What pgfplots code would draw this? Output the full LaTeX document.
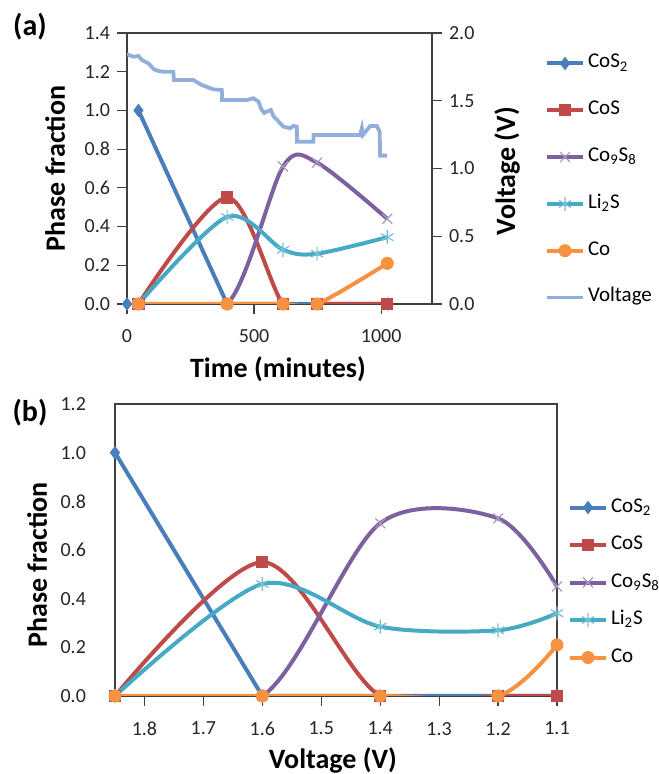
\documentclass[border=0pt]{standalone}
\usepackage{fontspec}
\setmainfont{Carlito}
\usepackage{pgfplots}
\pgfplotsset{compat=1.18}
\definecolor{cA}{HTML}{4A7EBB}
\definecolor{cB}{HTML}{BE4B48}
\definecolor{cC}{HTML}{7D60A0}
\definecolor{cD}{HTML}{46AAC5}
\definecolor{cE}{HTML}{F69240}
\definecolor{cV}{HTML}{92AEDD}
\definecolor{cAx}{HTML}{404040}
\pgfplotsset{
  every axis/.append style={
    scale only axis,
    axis line style={cAx, line width=0.6pt},
    tick style={cAx, line width=0.6pt},
    tick align=outside,
    major tick length=5pt,
    tick label style={font=\fontsize{10}{12}\selectfont, text=black!85},
    /pgf/number format/assume math mode=true,
    /pgf/number format/1000 sep={},
    label style={font=\bfseries\fontsize{14}{16}\selectfont},
  },
  myleg/.style={legend cell align=left,
    legend style={draw=none, fill=none, inner sep=0pt, outer sep=0pt, anchor=north west, column sep=1.5pt,
      nodes={inner sep=0pt, text height=7pt, text depth=2.5pt, anchor=west, font=\fontsize{10.5}{12}\selectfont}},
    legend image code/.code={\draw[mark repeat=2, mark phase=2, ##1] plot coordinates {(0pt,0pt)(9pt,0pt)(18pt,0pt)};}},
  sA/.style={cA, line width=2pt, mark=diamond*, mark size=3pt, mark options={solid, fill=cA, draw=cA, line width=0.5pt}},
  sB/.style={cB, line width=2pt, mark=square*, mark size=2.8pt, mark options={solid, fill=cB, draw=cB, line width=0.5pt}},
  sC/.style={cC, line width=2pt, mark=x, mark size=3.5pt, mark options={solid, draw=cC!65, line width=0.6pt}},
  sD/.style={cD, line width=2pt, mark=asterisk, mark size=3.5pt, mark options={solid, draw=cD!75, line width=0.6pt}},
  sE/.style={cE, line width=2pt, mark=*, mark size=3pt, mark options={solid, fill=cE, draw=cE, line width=0.5pt}},
  sV/.style={cV, line width=1.9pt, mark=none},
}
\begin{document}
\begin{tikzpicture}
\useasboundingbox (0pt,0pt) rectangle (329pt,387pt);
\node[font=\bfseries\fontsize{15}{17}\selectfont] at (15pt,373.5pt) {(a)};
\node[font=\bfseries\fontsize{15}{17}\selectfont] at (15pt,180.5pt) {(b)};
% ---------- panel (a), phase fractions ----------
\begin{axis}[at={(63.5pt,235pt)}, anchor=south west, width=152.5pt, height=135.5pt,
  xmin=0, xmax=1200, ymin=0, ymax=1.4,
  xtick={0,500,1000}, ytick={0,0.2,0.4,0.6,0.8,1.0,1.2,1.4},
  xticklabel style={yshift=-4pt},
  yticklabel style={/pgf/number format/.cd, fixed, fixed zerofill, precision=1},
  xtick pos=bottom, ytick pos=left,
  xlabel={Time (minutes)}, ylabel={Phase fraction},
  xlabel style={at={(axis description cs:0.495,-0.24)}, anchor=center},
  ylabel style={at={(axis description cs:-0.236,0.5)}, anchor=center}]
\addplot[sA] coordinates {(45,1.0) (394,0) (614,0) (748,0) (1024,0)};
\addplot[sA, only marks, forget plot] coordinates {(0,0)};
\addplot[sB, smooth] coordinates {(45,0) (394,0.55) (614,0) (748,0) (1024,0)};
\addplot[sC, smooth] coordinates {(45,0) (394,0) (614,0.71) (748,0.73) (1024,0.44)};
\addplot[sD, smooth] coordinates {(45,0) (394,0.45) (614,0.28) (748,0.26) (1024,0.345)};
\addplot[sE, smooth] coordinates {(45,0) (394,0) (614,0) (748,0) (1024,0.21)};
\end{axis}
% ---------- panel (a), voltage ----------
\begin{axis}[at={(63.5pt,235pt)}, anchor=south west, width=152.5pt, height=135.5pt,
  xmin=0, xmax=1200, ymin=0, ymax=2,
  axis x line=none, axis y line*=right,
  ytick={0,0.5,1,1.5,2},
  yticklabel style={/pgf/number format/.cd, fixed, fixed zerofill, precision=1},
  ylabel={Voltage (V)},
  ylabel style={at={(axis description cs:1.246,0.49)}, anchor=center, rotate=0},
  myleg, legend style={at={(1.3705,0.9225)}, row sep=13.9pt}]
\addlegendimage{sA}\addlegendentry{CoS\textsubscript{2}}
\addlegendimage{sB}\addlegendentry{CoS}
\addlegendimage{sC}\addlegendentry{Co\textsubscript{9}S\textsubscript{8}}
\addlegendimage{sD}\addlegendentry{Li\textsubscript{2}S}
\addlegendimage{sE}\addlegendentry{Co}
\addplot[sV] coordinates {(0,1.843) (25,1.825) (45,1.830) (58,1.801) (84,1.776) (106,1.732) (123,1.720) (143,1.714) (182,1.714) (185,1.653) (261,1.653) (294,1.616) (340,1.584) (373,1.579) (374,1.505) (471,1.505) (497,1.518) (517,1.494) (530,1.432) (540,1.41) (550,1.42) (566,1.432) (576,1.387) (615,1.309) (642,1.297) (655,1.314) (668,1.309) (669,1.198) (733,1.198) (734,1.247) (917,1.247) (924,1.297) (928,1.247) (957,1.314) (983,1.314) (994,1.272) (996,1.095) (1022,1.095)};
\addlegendentry{Voltage}
\end{axis}
% ---------- panel (b) ----------
\begin{axis}[at={(57.5pt,39pt)}, anchor=south west, width=221pt, height=146pt,
  xmin=1.1, xmax=1.85, x dir=reverse, ymin=0, ymax=1.2,
  xtick={1.1,1.2,1.3,1.4,1.5,1.6,1.7,1.8}, ytick={0,0.2,0.4,0.6,0.8,1.0,1.2},
  xticklabel style={yshift=-4.5pt, /pgf/number format/.cd, fixed, fixed zerofill, precision=1},
  yticklabel style={xshift=-6pt, /pgf/number format/.cd, fixed, fixed zerofill, precision=1},
  ytick style={draw=none},
  xtick pos=bottom, ytick pos=left,
  xlabel={Voltage (V)}, ylabel={Phase fraction},
  xlabel style={at={(axis description cs:0.493,-0.222)}, anchor=center},
  ylabel style={at={(axis description cs:-0.176,0.449)}, anchor=center},
  myleg, legend style={at={(1.025,0.678)}, row sep=9.25pt}]
\addplot[sA] coordinates {(1.85,1.0) (1.6,0) (1.4,0) (1.2,0) (1.1,0)};
\addlegendentry{CoS\textsubscript{2}}
\addplot[sB, smooth] coordinates {(1.85,0) (1.6,0.55) (1.4,0) (1.2,0) (1.1,0)};
\addlegendentry{CoS}
\addplot[sC, smooth] coordinates {(1.85,0) (1.6,0) (1.4,0.71) (1.2,0.73) (1.1,0.45)};
\addlegendentry{Co\textsubscript{9}S\textsubscript{8}}
\addplot[sD, smooth] coordinates {(1.85,0) (1.6,0.46) (1.4,0.285) (1.2,0.27) (1.1,0.34)};
\addlegendentry{Li\textsubscript{2}S}
\addplot[sE, smooth] coordinates {(1.85,0) (1.6,0) (1.4,0) (1.2,0) (1.1,0.21)};
\addlegendentry{Co}
\end{axis}
\end{tikzpicture}
\end{document}
